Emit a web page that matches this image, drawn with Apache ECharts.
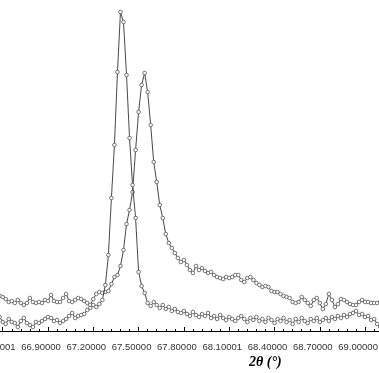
<!DOCTYPE html>
<html><head><meta charset="utf-8">
<script src="https://cdn.jsdelivr.net/npm/echarts@6/dist/echarts.min.js"></script>
<style>html,body{margin:0;padding:0;background:#fff}#c{width:379px;height:373px}</style>
</head><body><div id="c"></div>
<script>
const twoTheta = [66.58,66.60,66.62,66.64,66.66,66.68,66.70,66.72,66.74,66.76,66.78,66.80,66.82,66.84,66.86,66.88,66.90,66.92,66.94,66.96,66.98,67.00,67.02,67.04,67.06,67.08,67.10,67.12,67.14,67.16,67.18,67.20,67.22,67.24,67.26,67.28,67.30,67.32,67.34,67.36,67.38,67.40,67.42,67.44,67.46,67.48,67.50,67.52,67.54,67.56,67.58,67.60,67.62,67.64,67.66,67.68,67.70,67.72,67.74,67.76,67.78,67.80,67.82,67.84,67.86,67.88,67.90,67.92,67.94,67.96,67.98,68.00,68.02,68.04,68.06,68.08,68.10,68.12,68.14,68.16,68.18,68.20,68.22,68.24,68.26,68.28,68.30,68.32,68.34,68.36,68.38,68.40,68.42,68.44,68.46,68.48,68.50,68.52,68.54,68.56,68.58,68.60,68.62,68.64,68.66,68.68,68.70,68.72,68.74,68.76,68.78,68.80,68.82,68.84,68.86,68.88,68.90,68.92,68.94,68.96,68.98,69.00,69.02,69.04,69.06,69.08,69.10];
const sharpSeries = [14,9,7,12,9,8,4,10,13,8,6,4,9,8,10,12,14,13,10,11,8,10,12,15,18,13,15,16,17,21,23,26,24,27,31,46,76,133,186,259,319,309,256,193,146,113,59,45,38,28,25,29,26,23,26,22,24,20,22,19,18,20,17,15,19,16,14,17,15,18,13,15,12,16,13,11,14,12,10,13,15,12,9,13,11,14,10,12,9,13,11,8,12,10,13,9,11,7,12,9,13,10,8,12,10,13,9,11,13,10,14,12,15,13,16,14,17,18,20,16,17,14,15,11,12,7,4];
const broadSeries = [35,34,32,29,30,28,31,28,26,28,33,29,28,29,28,31,30,36,30,29,29,33,37,30,29,31,33,32,30,28,26,32,37,39,38,39,40,47,54,56,65,81,107,121,139,181,219,246,258,239,206,169,149,126,113,97,88,83,78,73,69,71,66,61,58,65,61,63,60,58,59,56,54,53,52,54,53,54,56,56,51,49,53,54,51,48,46,44,45,44,40,39,39,37,35,34,33,29,28,29,34,31,28,25,31,33,28,22,27,37,31,24,27,32,31,29,27,26,26,29,31,29,29,28,28,28,29];
const tickLabels = ["66.30000","66.60001","66.90000","67.20000","67.50000","67.80000","68.10001","68.40000","68.70000","69.00000","69.30000"];
const axisTitle = "2\u03b8 (\u00b0)";

const chart = echarts.init(document.getElementById('c'), null, {renderer:'canvas'});
function pairs(vals){ return twoTheta.map((t,i)=>[t, vals[i]]); }
const lineStyle = {color:'#333', width:0.9};
const itemStyle = {color:'#fff', borderColor:'#666', borderWidth:0.9};
chart.setOption({
  animation:false,
  grid:{left:-42.6, right:-31.4, top:0, bottom:42, containLabel:false, outerBoundsMode:'none'},
  xAxis:{
    type:'value', min:66.3, max:69.3, interval:0.3,
    axisLine:{show:true, lineStyle:{color:'#000', width:1}},
    axisTick:{show:true, inside:true, length:4, lineStyle:{color:'#000'}},
    minorTick:{show:true, splitNumber:5, length:2, lineStyle:{color:'#000'}},
    splitLine:{show:false},
    axisLabel:{
      margin:11, color:'#333', fontFamily:'Liberation Sans, Arial, sans-serif', fontSize:9.5,
      padding:[0,14,0,0], hideOverlap:false, showMinLabel:true, showMaxLabel:true,
      formatter:function(v){ const k=Math.round((v-66.3)/0.3); return tickLabels[k]||''; }
    }
  },
  yAxis:{type:'value', min:0, max:331, show:false, splitLine:{show:false}},
  series:[
    {type:'line', data:pairs(sharpSeries), symbol:'circle', symbolSize:3.6, showSymbol:true, showAllSymbol:true, lineStyle:lineStyle, itemStyle:itemStyle, z:3},
    {type:'line', data:pairs(broadSeries), symbol:'circle', symbolSize:3.6, showSymbol:true, showAllSymbol:true, lineStyle:lineStyle, itemStyle:itemStyle, z:2}
  ],
  graphic:[{type:'text', left:249, top:355, style:{text:axisTitle, font:'italic bold 14px "Liberation Serif", "Times New Roman", serif', fill:'#000'}}]
});
</script></body></html>
